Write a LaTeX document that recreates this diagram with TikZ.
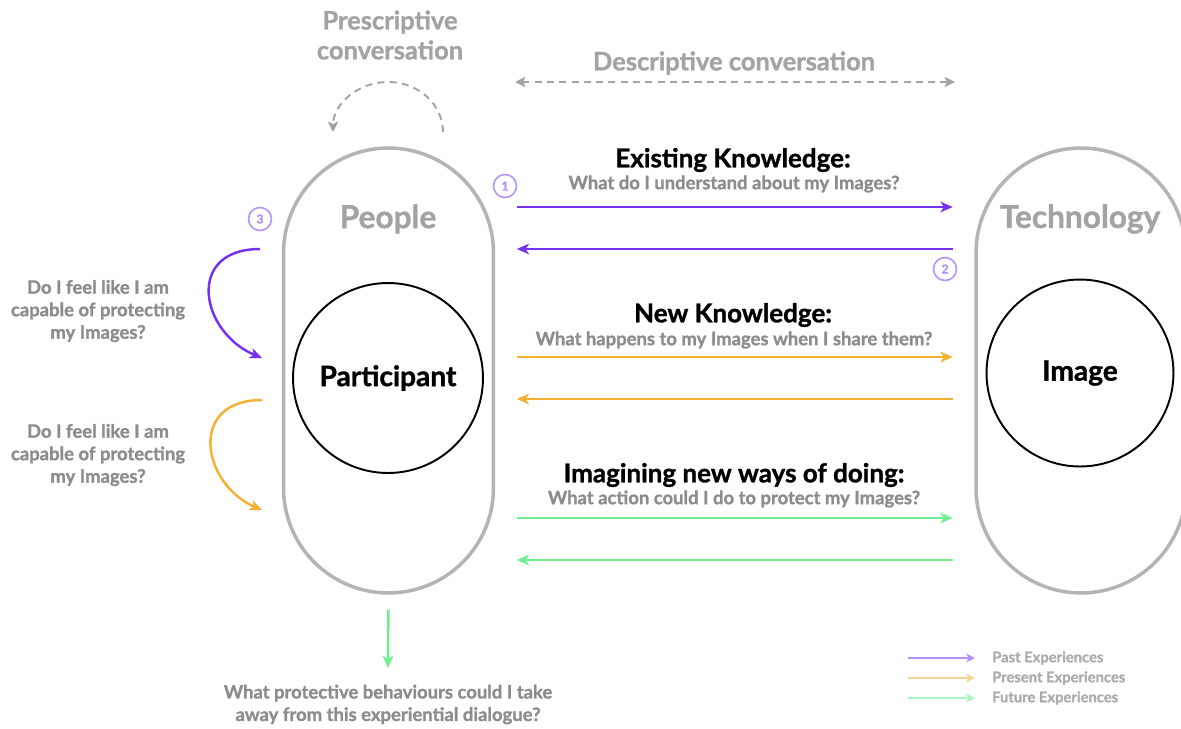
\documentclass[tikz,border=0pt]{standalone}
\usepackage{fontspec}
\setmainfont{Lato}[BoldFeatures={FakeBold=1.2}]
\usetikzlibrary{arrows.meta,positioning,calc}

\definecolor{past}{HTML}{7431F2}
\definecolor{present}{HTML}{F4B02F}
\definecolor{future}{HTML}{6FEE91}
\definecolor{pastlight}{HTML}{B88CFA}
\definecolor{presentlight}{HTML}{F8D494}
\definecolor{futurelight}{HTML}{A9F4C0}
\definecolor{tagpurple}{HTML}{B592F8}
\definecolor{pillgray}{HTML}{B4B4B4}
\definecolor{softgray}{HTML}{A3A3A3}
\definecolor{askgray}{HTML}{8C8C8C}
\definecolor{keygray}{HTML}{ABABAB}

\begin{document}
\begin{tikzpicture}[x=0.02cm,y=-0.02cm,
	pill/.style={draw=pillgray,line width=2pt,rounded corners=2.1cm,minimum width=4.2cm,minimum height=8.9cm},
	core/.style={circle,draw=black,line width=1.1pt,minimum size=#1,font=\fontsize{16}{18}\selectfont\bfseries},
	realm/.style={text=softgray,font=\fontsize{18}{21}\selectfont\bfseries},
	convo/.style={text=softgray,align=center,font=\fontsize{14.5}{17}\selectfont\bfseries},
	head/.style={text=black,font=\fontsize{14.8}{17}\selectfont\bfseries},
	ask/.style={text=askgray,align=center,font=\fontsize{10.5}{12.8}\selectfont\bfseries},
	numtag/.style={circle,draw=tagpurple,line width=0.9pt,minimum size=0.46cm,inner sep=0pt,text=tagpurple,font=\fontsize{7}{8}\selectfont\bfseries},
	flow/.style={line width=1.4pt,shorten <=0.43cm,shorten >=0.43cm,-{Stealth[length=7pt,width=6pt,inset=2pt]}},
	loop/.style={line width=1.4pt,-{Stealth[length=7pt,width=6pt,inset=2pt]}},
	talk/.style={draw=softgray,line width=1.1pt,dash pattern=on 4pt off 3pt},
	key/.style={draw=#1,line width=1.2pt,-{Stealth[length=5pt,width=5pt,inset=1.5pt]}},
	keytext/.style={anchor=west,text=keygray,font=\fontsize{8.4}{10}\selectfont\bfseries}]
	\useasboundingbox (0,0) rectangle (1181,728);

	% the two sides of the dialogue
	\node[pill] (people) at (388.5,370.5) {};
	\node[pill] (tech) at (1081,370.5) {};
	\node[realm] (peoplet) at (388,219) {People};
	\node[realm] (techt) at (1080,219) {Technology};
	\node[core=3.8cm] (part) at (388,378) {Participant};
	\node[core=3.74cm] (img) at (1080,373) {Image};

	% conversation labels
	\node[convo] (presc) at (390,35) {Prescriptive\\conversation};
	\node[convo] (desc) at (734,63) {Descriptive conversation};
	\draw[talk,{Stealth[length=6pt,width=6pt,inset=1.5pt]}-{Stealth[length=6pt,width=6pt,inset=1.5pt]}] (515,82) -- (955,82);
	\draw[talk,-{Stealth[length=6pt,width=6pt,inset=1.5pt]}] (443,132) arc[start angle=0,end angle=-180,x radius=55,y radius=50];

	% rows of knowledge
	\node[head] (exist) at (733,160) {Existing Knowledge:};
	\node[ask] (existq) at (734,184) {What do I understand about my Images?};
	\node[head] (new) at (733,315) {New Knowledge:};
	\node[ask] (newq) at (734,340) {What happens to my Images when I share them?};
	\node[head] (imag) at (734,475) {Imagining new ways of doing:};
	\node[ask] (imagq) at (734,499) {What action could I do to protect my Images?};

	\coordinate (r1) at (0,207);
	\coordinate (r2) at (0,249);
	\coordinate (r3) at (0,357);
	\coordinate (r4) at (0,399);
	\coordinate (r5) at (0,518);
	\coordinate (r6) at (0,560);
	\draw[flow,past] (people.east |- r1) -- (tech.west |- r1);
	\draw[flow,past] (tech.west |- r2) -- (people.east |- r2);
	\draw[flow,present] (people.east |- r3) -- (tech.west |- r3);
	\draw[flow,present] (tech.west |- r4) -- (people.east |- r4);
	\draw[flow,future] (people.east |- r5) -- (tech.west |- r5);
	\draw[flow,future] (tech.west |- r6) -- (people.east |- r6);

	\node[numtag] (n1) at (505,186) {1};
	\node[numtag] (n2) at (945,269) {2};
	\node[numtag] (n3) at (260,219) {3};

	% self reflection on the left
	\node[ask] (feel1) at (98,311) {Do I feel like I am\\capable of protecting\\my Images?};
	\node[ask] (feel2) at (98,455) {Do I feel like I am\\capable of protecting\\my Images?};
	\coordinate (q1a) at (260,249);
	\coordinate (q1b) at (262,358);
	\coordinate (q2a) at (262,400);
	\coordinate (q2b) at (262,510);
	\draw[loop,past] (q1a) .. controls (185,249) and (200,332) .. (q1b);
	\draw[loop,present] (q2a) .. controls (187,400) and (202,484) .. (q2b);

	% take away
	\node[ask] (away) at (388,704.5) {What protective behaviours could I take\\away from this experiential dialogue?};
	\draw[loop,future,shorten <=0.3cm] (people.south) -- (388,668);

	% legend
	\node[keytext] (kpast) at (986,658) {Past Experiences};
	\node[keytext] (kpres) at (986,678) {Present Experiences};
	\node[keytext] (kfut) at (986,698) {Future Experiences};
	\draw[key=pastlight] ([xshift=-1.56cm]kpast.west) -- ([xshift=-0.22cm]kpast.west);
	\draw[key=presentlight] ([xshift=-1.56cm]kpres.west) -- ([xshift=-0.22cm]kpres.west);
	\draw[key=futurelight] ([xshift=-1.56cm]kfut.west) -- ([xshift=-0.22cm]kfut.west);
\end{tikzpicture}
\end{document}
